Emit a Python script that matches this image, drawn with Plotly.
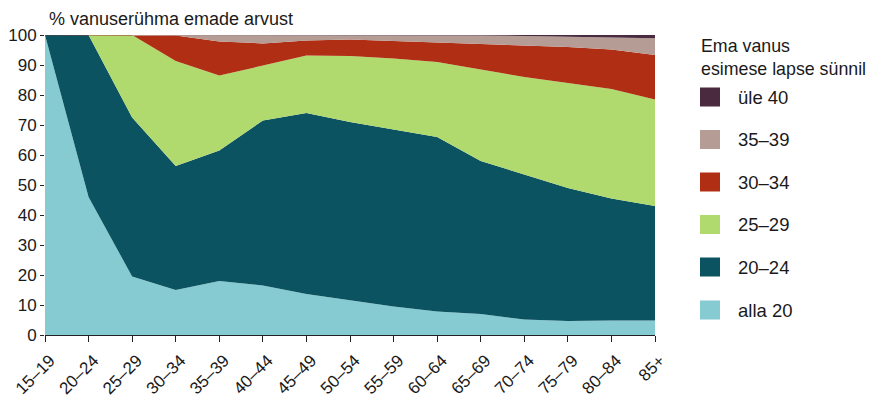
import plotly.graph_objects as go

categories = ["15–19", "20–24", "25–29", "30–34", "35–39", "40–44", "45–49",
              "50–54", "55–59", "60–64", "65–69", "70–74", "75–79", "80–84", "85+"]

alla_20 = [100, 46, 19.5, 15, 18, 16.5, 13.7, 11.5, 9.5, 7.8, 7, 5.2, 4.7, 4.8, 4.8]
v20_24 = [0, 54, 53, 41.3, 43.5, 55, 60.3, 59.5, 59, 58.2, 51, 48.3, 44.3, 40.7, 38.2]
v25_29 = [0, 0, 27.5, 35, 25, 18.3, 19.2, 22, 23.7, 25, 30.5, 32.5, 35, 36.5, 35.5]
v30_34 = [0, 0, 0, 8.5, 11.3, 7.4, 5, 5.5, 5.8, 6.5, 8.5, 10.7, 12, 13.2, 14.8]
v35_39 = [0, 0, 0, 0.2, 2.1, 2.7, 1.7, 1.4, 1.85, 2.3, 2.8, 3.0, 3.5, 4.0, 5.6]
ule_40 = [0, 0, 0, 0, 0.1, 0.1, 0.1, 0.1, 0.15, 0.2, 0.2, 0.3, 0.5, 0.8, 1.1]

series_names = ["alla 20", "20–24", "25–29", "30–34", "35–39", "üle 40"]
series_values = [alla_20, v20_24, v25_29, v30_34, v35_39, ule_40]
colors = ["#86CBD2", "#0C5361", "#B0D96E", "#B02E13", "#B59C94", "#4A2A3E"]

FONT = "Liberation Sans, Arial, sans-serif"
TXT = "#1a1a1a"

fig = go.Figure()
for name, vals, col in zip(series_names, series_values, colors):
    fig.add_trace(go.Scatter(
        x=categories, y=vals, name=name, stackgroup="one",
        mode="lines", line=dict(width=0, color=col), fillcolor=col,
        showlegend=False, hoverinfo="skip"))

# The page body has an 8px default margin, so figure coords = screen coords - 8
OFF = 8
W, H = 876 - OFF, 398 - OFF
L, R, T, B = 45 - OFF, 655 - OFF, 35 - OFF, 335 - OFF

def px(xs):
    return (xs - OFF - L) / (R - L)

def py(ys):
    return (B - (ys - OFF)) / (B - T)

LEG_FS = 17.8
annotations = [
    dict(text="% vanuserühma emade arvust", x=px(46.5), y=py(19), xref="paper", yref="paper",
         xanchor="left", yanchor="middle", showarrow=False, font=dict(size=18, color=TXT, family=FONT)),
    dict(text="Ema vanus", x=px(699), y=py(46), xref="paper", yref="paper",
         xanchor="left", yanchor="middle", showarrow=False, font=dict(size=LEG_FS, color=TXT, family=FONT)),
    dict(text="esimese lapse sünnil", x=px(699), y=py(68.5), xref="paper", yref="paper",
         xanchor="left", yanchor="middle", showarrow=False, font=dict(size=LEG_FS, color=TXT, family=FONT)),
]
shapes = []
legend_centers = [310, 267, 224.5, 182, 139.5, 97]  # alla 20 ... üle 40
for name, col, c in zip(series_names, colors, legend_centers):
    shapes.append(dict(type="rect", xref="paper", yref="paper",
                       x0=px(700), x1=px(720), y0=py(c + 9.5), y1=py(c - 9.5),
                       fillcolor=col, line=dict(width=0)))
    annotations.append(dict(text=name, x=px(735.5), y=py(c), xref="paper", yref="paper",
                            xanchor="left", yanchor="middle", showarrow=False,
                            font=dict(size=18.5, color=TXT, family=FONT)))

fig.update_layout(
    width=W, height=H,
    margin=dict(l=L, r=W - R, t=T, b=H - B, pad=0, autoexpand=False),
    paper_bgcolor="white", plot_bgcolor="white",
    font=dict(family=FONT, size=17, color=TXT),
    xaxis=dict(type="category", range=[0, 14], tickangle=-45, ticks="outside",
               ticklen=6, tickcolor="#222", showline=True, linecolor="#222", linewidth=1,
               showgrid=False, zeroline=False, automargin=False,
               ticklabelshift=5, ticklabelstandoff=2,
               tickfont=dict(size=17, color=TXT)),
    yaxis=dict(range=[0, 100], tickvals=list(range(0, 101, 10)), ticks="outside",
               ticklen=4, tickcolor="#222", showline=False, showgrid=False, zeroline=False,
               automargin=False, tickfont=dict(size=17, color=TXT)),
    yaxis2=dict(range=[0, 100], overlaying="y", side="right", anchor="x",
                tickvals=list(range(0, 101, 10)), ticks="outside", ticklen=3,
                tickcolor="#999", showticklabels=False, showline=False, showgrid=False,
                zeroline=False, automargin=False),
    annotations=annotations, shapes=shapes, showlegend=False,
)

fig.write_html("out.html")
